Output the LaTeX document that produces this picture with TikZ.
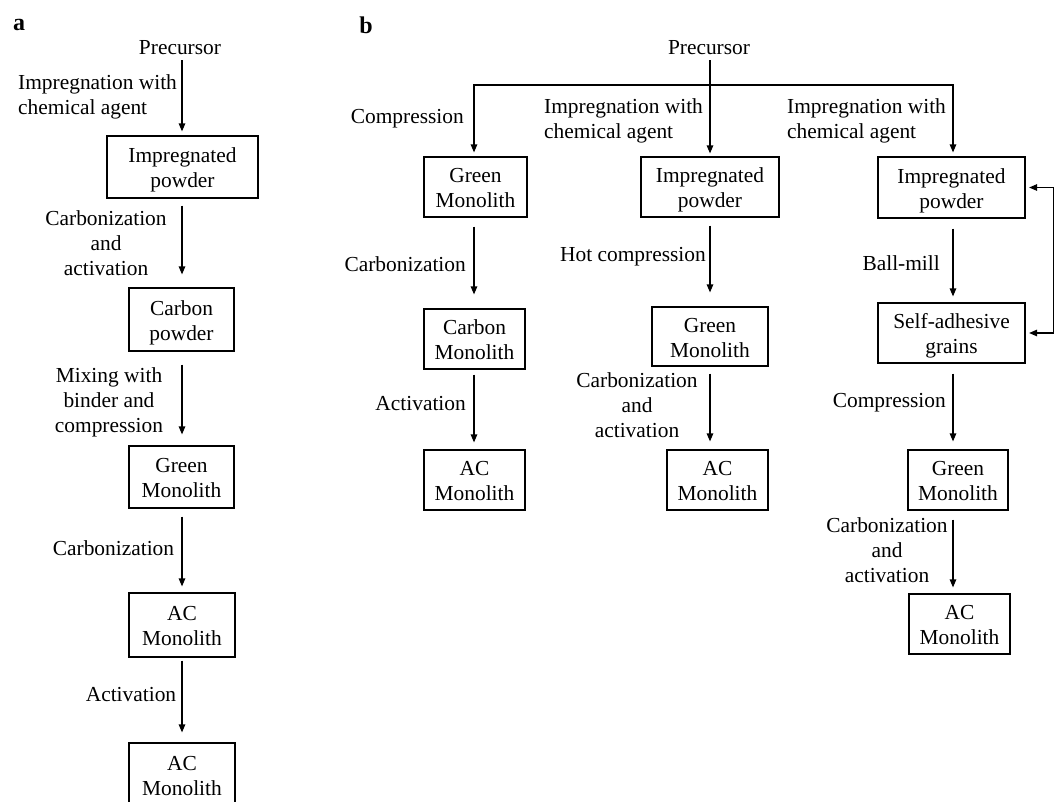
\documentclass[tikz,border=0pt]{standalone}
\usepackage{fontspec}
\setmainfont{Liberation Serif}
\usetikzlibrary{arrows.meta}
\newcommand{\twol}[2]{\rule{0pt}{21.4pt}#1\\#2\rule[-5pt]{0pt}{5pt}}
\begin{document}
\begin{tikzpicture}[x=1pt,y=-1pt,
  font=\fontsize{21.4}{25}\selectfont,
  box/.style={draw, line width=1.2pt, inner sep=0pt, align=center},
  lbl/.style={inner sep=0pt, align=center},
  panel/.style={inner sep=0pt, font=\fontsize{24}{24}\selectfont\bfseries},
  arr/.style={line width=1.2pt, -{Triangle[length=8pt,width=6.5pt]}},
  plain/.style={line width=1.2pt}
]
\useasboundingbox (0,0) rectangle (1055,801);
\clip (0,0) rectangle (1055,801);

% ---------------- panel a ----------------
\node[panel] (la) at (19,25) {a};
\node[lbl] (preA) at (180,48) {Precursor};
\node[box, minimum width=151pt, minimum height=62pt] (a1) at (182.5,167) {\twol{Impregnated}{powder}};
\node[box, minimum width=105pt, minimum height=63pt] (a2) at (181.5,319.5) {\twol{Carbon}{powder}};
\node[box, minimum width=105pt, minimum height=62pt] (a3) at (181.5,477) {\twol{Green}{Monolith}};
\node[box, minimum width=106pt, minimum height=64pt] (a4) at (182,625) {\twol{AC}{Monolith}};
\node[box, minimum width=106pt, minimum height=63pt] (a5) at (182,774.5) {\twol{AC}{Monolith}};

\node[lbl, align=left, anchor=west] (la1) at (18,96.5) {Impregnation with\\chemical agent};
\node[lbl] (la2) at (106,243) {Carbonization\\and\\activation};
\node[lbl] (la3) at (109,402) {Mixing with\\binder and\\compression};
\node[lbl] (la4) at (113.5,548) {Carbonization};
\node[lbl] (la5) at (131,695) {Activation};

\coordinate (ca) at (182,0);
\draw[arr, shorten <=5pt, shorten >=4pt] (ca|-preA.south) -- (ca|-a1.north);
\draw[arr, shorten <=7pt, shorten >=13pt] (ca|-a1.south) -- (ca|-a2.north);
\draw[arr, shorten <=13pt, shorten >=11pt] (ca|-a2.south) -- (ca|-a3.north);
\draw[arr, shorten <=8pt, shorten >=6pt] (ca|-a3.south) -- (ca|-a4.north);
\draw[arr, shorten <=3pt, shorten >=10pt] (ca|-a4.south) -- (ca|-a5.north);

% ---------------- panel b ----------------
\node[panel] (lb) at (366,25) {b};
\node[lbl] (preB) at (709,48) {Precursor};

\coordinate (c1) at (474,0);
\coordinate (c2) at (710,0);
\coordinate (c3) at (953,0);
\coordinate (hl) at (0,85);

% column 1
\node[box, minimum width=103pt, minimum height=60pt] (g1) at (475.5,187) {\twol{Green}{Monolith}};
\node[box, minimum width=101pt, minimum height=60pt] (cm1) at (474.5,339) {\twol{Carbon}{Monolith}};
\node[box, minimum width=101pt, minimum height=60pt] (ac1) at (474.5,480) {\twol{AC}{Monolith}};
% column 2
\node[box, minimum width=138pt, minimum height=60pt] (ip2) at (710,187) {\twol{Impregnated}{powder}};
\node[box, minimum width=116pt, minimum height=59pt] (gm2) at (710,336.5) {\twol{Green}{Monolith}};
\node[box, minimum width=101pt, minimum height=60pt] (ac2) at (717.5,480) {\twol{AC}{Monolith}};
% column 3
\node[box, minimum width=147pt, minimum height=61pt] (ip3) at (951.5,187.5) {\twol{Impregnated}{powder}};
\node[box, minimum width=147pt, minimum height=60pt] (sa3) at (951.5,333) {\twol{Self-adhesive}{grains}};
\node[box, minimum width=100pt, minimum height=60pt] (gm3) at (958,480) {\twol{Green}{Monolith}};
\node[box, minimum width=101pt, minimum height=60pt] (ac3) at (959.5,624) {\twol{AC}{Monolith}};

% labels
\node[lbl, anchor=east] (lc1) at (464,119) {Compression};
\node[lbl, align=left, anchor=west] (lc2) at (544,121) {Impregnation with\\chemical agent};
\node[lbl, align=left, anchor=west] (lc3) at (787,121) {Impregnation with\\chemical agent};
\node[lbl, anchor=east] (lb1) at (466,264) {Carbonization};
\node[lbl, anchor=east] (lb2) at (466,404) {Activation};
\node[lbl, anchor=east] (lb3) at (706,257) {Hot compression};
\node[lbl] (lb4) at (637,405) {Carbonization\\and\\activation};
\node[lbl, anchor=east] (lb5) at (940,263) {Ball-mill};
\node[lbl, anchor=east] (lb6) at (946,403) {Compression};
\node[lbl] (lb7) at (887,550) {Carbonization\\and\\activation};

% top distribution
\draw[arr, shorten <=5pt, shorten >=3pt] (c2|-preB.south) -- (c2|-ip2.north);
\draw[arr, shorten >=4pt] (c2|-hl) -| (c1|-g1.north);
\draw[arr, shorten >=4pt] (c2|-hl) -| (c3|-ip3.north);

% column 1 arrows
\draw[arr, shorten <=9pt, shorten >=14pt] (c1|-g1.south) -- (c1|-cm1.north);
\draw[arr, shorten <=5pt, shorten >=7pt] (c1|-cm1.south) -- (c1|-ac1.north);
% column 2 arrows
\draw[arr, shorten <=8pt, shorten >=14pt] (c2|-ip2.south) -- (c2|-gm2.north);
\draw[arr, shorten <=7pt, shorten >=8pt] (c2|-gm2.south) -- (c2|-ac2.north);
% column 3 arrows
\draw[arr, shorten <=10pt, shorten >=6pt] (c3|-ip3.south) -- (c3|-sa3.north);
\draw[arr, shorten <=10pt, shorten >=8pt] (c3|-sa3.south) -- (c3|-gm3.north);
\draw[arr, shorten <=9pt, shorten >=6pt] (c3|-gm3.south) -- (c3|-ac3.north);

% loop between self-adhesive grains and impregnated powder
\draw[line width=1.2pt, {Triangle[length=8pt,width=6.5pt]}-{Triangle[length=8pt,width=6.5pt]}, shorten <=3.5pt, shorten >=3.5pt]
  (sa3.east) -- ++(27.5,0) |- (ip3.east);
\end{tikzpicture}
\end{document}
